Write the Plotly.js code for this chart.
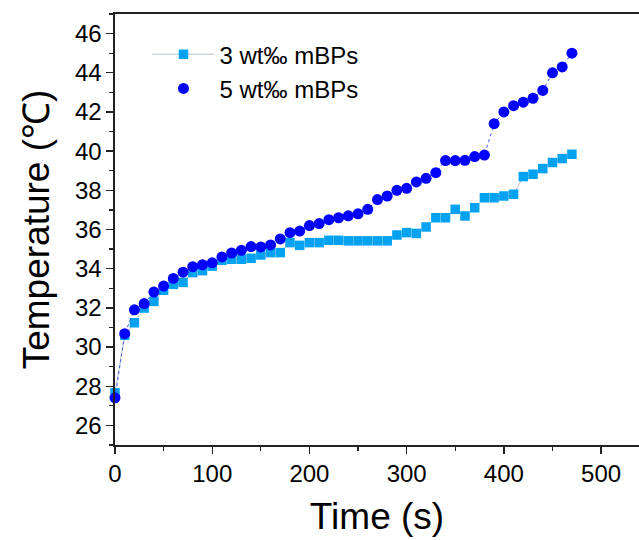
<!DOCTYPE html>
<html>
<head>
<meta charset="utf-8">
<script src="https://cdn.plot.ly/plotly-3.0.1.min.js"></script>
<style>html,body{margin:0;padding:0;background:#fff;}#chart{width:639px;height:540px;}</style>
</head>
<body>
<div id="chart"></div>
<script>
// Time (s)
const time = [0,10,20,30,40,50,60,70,80,90,100,110,120,130,140,150,160,170,180,190,200,210,220,230,240,250,260,270,280,290,300,310,320,330,340,350,360,370,380,390,400,410,420,430,440,450,460,470];
// 3 wt‰ mBPs
const temp3 = [27.67,30.6,31.24,31.99,32.33,32.9,33.2,33.3,33.8,33.9,34.13,34.43,34.48,34.48,34.53,34.7,34.82,34.82,35.33,35.19,35.33,35.33,35.45,35.45,35.42,35.42,35.42,35.42,35.42,35.72,35.84,35.8,36.13,36.6,36.6,37.03,36.69,37.11,37.62,37.62,37.71,37.8,38.7,38.82,39.11,39.42,39.62,39.84];
// 5 wt‰ mBPs
const temp5 = [27.41,30.68,31.9,32.22,32.81,33.11,33.5,33.82,34.1,34.2,34.3,34.6,34.8,34.94,35.13,35.11,35.21,35.52,35.84,35.92,36.2,36.3,36.5,36.6,36.7,36.8,37.03,37.53,37.71,38.0,38.1,38.43,38.61,38.9,39.52,39.52,39.53,39.72,39.8,41.4,42.0,42.32,42.5,42.7,43.1,44.0,44.3,45.0];

const names = ["3 wt\u2030 mBPs", "5 wt\u2030 mBPs"];
const xTitle = "Time (s)";
const yTitle = "Temperature (\u2103)";

const traces = [
  {x: time, y: temp3, name: names[0], type: 'scatter', mode: 'lines+markers',
   line: {color: '#a8b4c0', width: 0.8},
   marker: {symbol: 'square', size: 9.5, color: '#05A2F2'}, cliponaxis: false},
  {x: time, y: temp5, type: 'scatter', mode: 'lines', showlegend: false, hoverinfo: 'skip',
   line: {color: '#3344ee', width: 0.9, dash: 'dot'}, cliponaxis: false},
  {x: time, y: temp5, name: names[1], type: 'scatter', mode: 'markers',
   marker: {symbol: 'circle', size: 11, color: '#0000FF'}, cliponaxis: false}
];

const font = {family: 'Liberation Sans, Arial, sans-serif', color: '#000'};
const layout = {
  width: 639, height: 540,
  margin: {l: 115, r: 0, t: 14, b: 95},
  paper_bgcolor: '#fff', plot_bgcolor: '#fff',
  font: Object.assign({size: 21}, font),
  showlegend: true,
  legend: {x: 0.062, y: 0.958, xanchor: 'left', yanchor: 'top', bgcolor: 'rgba(0,0,0,0)',
           font: Object.assign({size: 24}, font), itemwidth: 62, tracegroupgap: 0},
  xaxis: {
    range: [0, 539], showgrid: false, zeroline: false,
    showline: true, linecolor: '#222', linewidth: 1.6, mirror: true,
    ticks: 'outside', ticklen: 7, tickwidth: 1.4, tickcolor: '#222',
    dtick: 100, tick0: 0,
    minor: {dtick: 50, ticks: 'outside', ticklen: 4, tickwidth: 1.2, tickcolor: '#222'},
    tickfont: Object.assign({size: 24}, font),
    title: {text: xTitle, font: Object.assign({size: 37}, font), standoff: 16}
  },
  yaxis: {
    range: [25, 47], showgrid: false, zeroline: false,
    showline: true, linecolor: '#222', linewidth: 1.6, mirror: false,
    ticks: 'outside', ticklen: 7, tickwidth: 1.4, tickcolor: '#222',
    dtick: 2, tick0: 26,
    minor: {dtick: 1, ticks: 'outside', ticklen: 4, tickwidth: 1.2, tickcolor: '#222'},
    tickfont: Object.assign({size: 24}, font),
    title: {text: yTitle, font: Object.assign({size: 37}, font), standoff: 14}
  }
};
Plotly.newPlot('chart', traces, layout, {displayModeBar: false, staticPlot: true});
</script>
</body>
</html>
